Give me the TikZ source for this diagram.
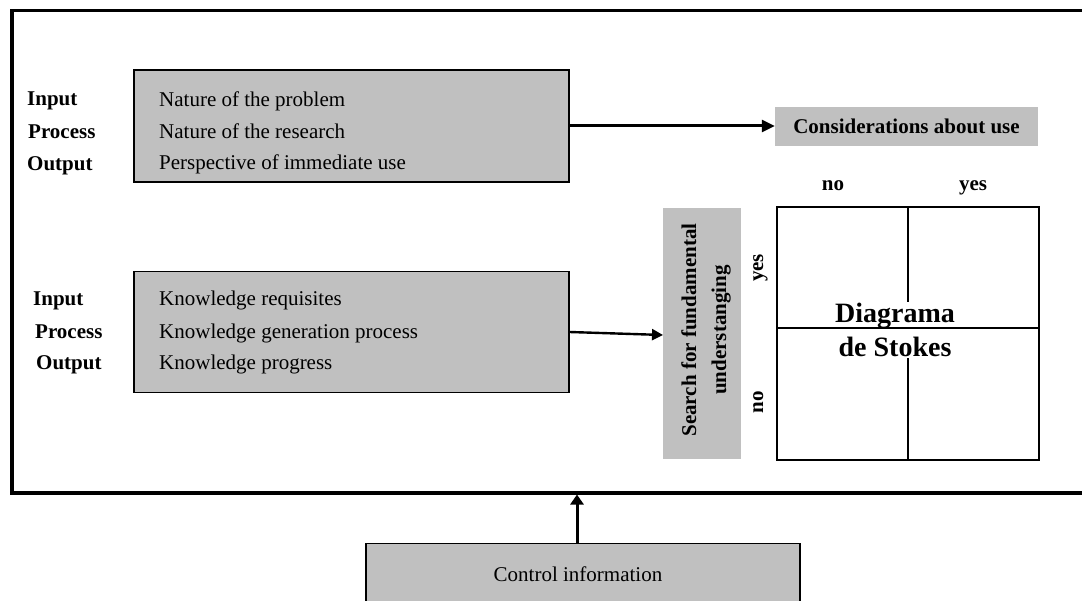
\documentclass[tikz,border=0pt]{standalone}
\usepackage{fontspec}
\setmainfont{Liberation Serif}
\usetikzlibrary{arrows.meta}
\definecolor{boxgray}{HTML}{C0C0C0}
\tikzset{
  graybox/.style={draw=black, line width=1.2pt, fill=boxgray, inner sep=0pt},
  plainbox/.style={fill=boxgray, inner sep=0pt},
  txt/.style={font=\fontsize{21}{25}\selectfont, inner sep=0pt, anchor=base west},
  lbl/.style={font=\fontsize{21}{25}\selectfont\bfseries, inner sep=0pt, anchor=base west},
  blbl/.style={font=\fontsize{21}{25}\selectfont\bfseries, inner sep=0pt},
  thickarrow/.style={line width=3pt, -{Triangle[length=13pt,width=12pt]}},
}
\begin{document}
\begin{tikzpicture}[x=1pt,y=-1pt]
\useasboundingbox (0,0) rectangle (1082,601);
% outer frame
\draw[line width=3.6pt] (1100,10.5) -- (12,10.5) -- (12,492.7) -- (1100,492.7);
\coordinate (fbot) at (577,494.5);

% box 1
\node[graybox, minimum width=435pt, minimum height=112pt] (b1) at (351.5,126) {};
\node[txt] (b1a) at (159,107) {Nature of the problem};
\node[txt] (b1b) at (159,139) {Nature of the research};
\node[txt] (b1c) at (159,170) {Perspective of immediate use};
\node[lbl] (l1a) at (27,106) {Input};
\node[lbl] (l1b) at (28,139) {Process};
\node[lbl] (l1c) at (27,171) {Output};

% box 2
\node[graybox, minimum width=435pt, minimum height=121pt] (b2) at (351.5,332.3) {};
\node[txt] (b2a) at (159,306) {Knowledge requisites};
\node[txt] (b2b) at (159,339) {Knowledge generation process};
\node[txt] (b2c) at (159,370) {Knowledge progress};
\node[lbl] (l2a) at (33,306) {Input};
\node[lbl] (l2b) at (35,339) {Process};
\node[lbl] (l2c) at (36,370) {Output};

% considerations
\node[plainbox, minimum width=263pt, minimum height=39pt, font=\fontsize{21}{25}\selectfont\bfseries] (cons) at (906.5,126.5) {Considerations about use};
\draw[thickarrow] (b1.east |- 0,126) -- (cons.west |- 0,126);

% search box
\node[plainbox, minimum width=78pt, minimum height=251pt] (srch) at (702,333.5) {};
\node[blbl, rotate=90, align=center, font=\fontsize{21}{30}\selectfont\bfseries] (srcht) at (706,330) {Search for fundamental\\understanging};
\coordinate (s2) at (663,335);
\draw[line width=2.4pt, -{Triangle[length=11pt,width=11pt]}] (b2.east |- 0,332) -- (s2);

% Stokes grid
\node[blbl, anchor=base] (no1) at (833,191) {no};
\node[blbl, anchor=base] (yes1) at (973,191) {yes};
\node[blbl, rotate=90, anchor=base] (yes2) at (763,268) {yes};
\node[blbl, rotate=90, anchor=base] (no2) at (763,402) {no};
\node[draw=black, line width=1.2pt, minimum width=262pt, minimum height=253pt, inner sep=0pt] (grid) at (908,333.5) {};
\draw[line width=1.2pt] (grid.north -| 908,0) -- (grid.south -| 908,0);
\node[fill=white, inner sep=1pt, align=center, font=\fontsize{28}{34}\selectfont\bfseries] (stk) at (895,330) {Diagrama\\de Stokes};
\draw[line width=1.2pt] (grid.west |- 0,328) -- (grid.east |- 0,328);

% control
\node[graybox, minimum width=434pt, minimum height=80pt, anchor=north] (ctrl) at (583,543) {};
\node[font=\fontsize{21}{25}\selectfont, inner sep=0pt] (ctrlt) at (578,574) {Control information};
\draw[line width=3pt, -{Triangle[length=10pt,width=13pt]}] (ctrl.north -| fbot) -- (fbot);
\end{tikzpicture}
\end{document}
